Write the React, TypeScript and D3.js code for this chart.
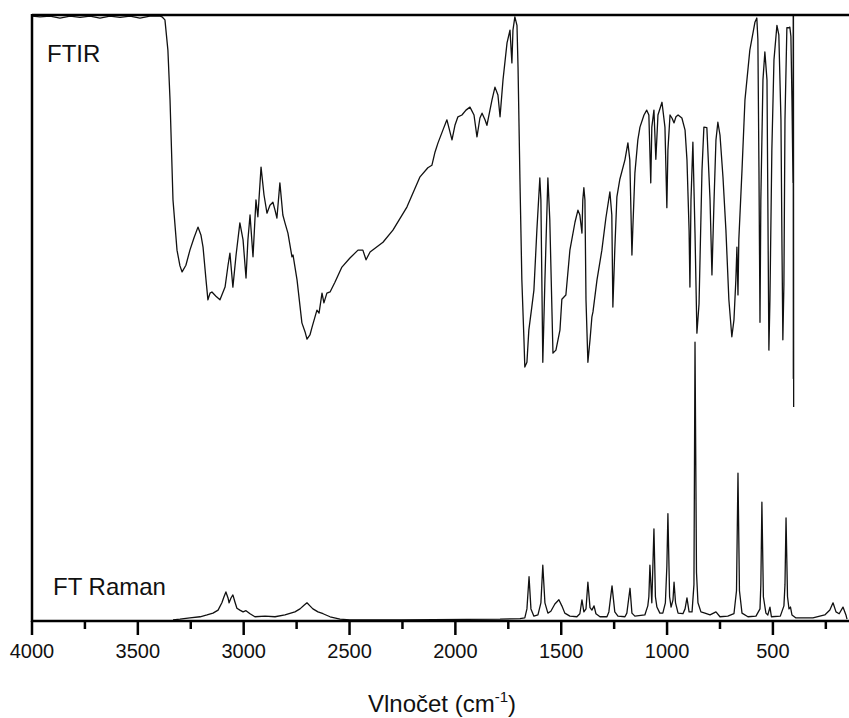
import React from "react";
import * as d3 from "d3";

// wavenumber (cm-1), transmittance-like value (0-100)
const ftirWavenumbers = [
  4000, 3962, 3915, 3868, 3820, 3773, 3726, 3679, 3632, 3584, 3537, 3490, 3443, 3395,
  3386, 3372, 3358, 3348, 3334, 3315, 3301, 3291, 3273, 3254, 3235, 3216, 3202, 3192,
  3178, 3169, 3159, 3150, 3131, 3112, 3088, 3074, 3065, 3051, 3036, 3018, 3003, 2989,
  2980, 2970, 2956, 2942, 2933, 2918, 2904, 2890, 2876, 2862, 2852, 2843, 2829, 2815,
  2805, 2791, 2772, 2767, 2748, 2725, 2710, 2701, 2687, 2677, 2654, 2644, 2630, 2621,
  2607, 2592, 2569, 2536, 2498, 2460, 2437, 2422, 2403, 2342, 2295, 2229, 2167, 2130,
  2111, 2096, 2082, 2059, 2040, 2016, 2002, 1988, 1969, 1950, 1931, 1912, 1898, 1884,
  1874, 1860, 1851, 1827, 1813, 1799, 1789, 1775, 1756, 1742, 1733, 1728, 1719, 1709,
  1704, 1695, 1686, 1676, 1672, 1662, 1653, 1639, 1629, 1615, 1601, 1596, 1587, 1577,
  1563, 1554, 1539, 1525, 1506, 1497, 1478, 1459, 1435, 1421, 1412, 1402, 1398, 1393,
  1388, 1383, 1374, 1364, 1355, 1350, 1331, 1308, 1289, 1270, 1261, 1256, 1247, 1237,
  1223, 1199, 1185, 1176, 1166, 1162, 1152, 1138, 1128, 1109, 1096, 1086, 1077, 1072,
  1062, 1053, 1043, 1024, 1010, 1001, 996, 986, 977, 967, 958, 948, 930, 915, 906, 896,
  892, 887, 878, 868, 859, 849, 835, 826, 812, 797, 788, 778, 769, 760, 750, 736, 722,
  708, 694, 684, 675, 670, 665, 661, 646, 632, 609, 585, 576, 571, 566, 561, 557, 547,
  538, 528, 524, 519, 514, 505, 495, 481, 472, 462, 457, 453, 448, 443, 434, 424, 420,
  415, 410, 405, 404, 403.5, 403, 402,
];
const ftirValues = [
  99.8, 99.7, 99.8, 99.5, 99.8, 99.6, 99.8, 99.5, 99.8, 99.6, 99.8, 99.5, 99.8, 99.8,
  99.7, 99.2, 94.2, 86.0, 69.5, 61.2, 58.6, 57.6, 58.7, 61.2, 63.2, 65.0, 63.7, 61.7,
  56.3, 53.0, 54.1, 54.3, 53.6, 53.0, 55.1, 58.7, 60.7, 55.1, 60.4, 65.7, 62.9, 56.6,
  62.9, 67.0, 60.1, 69.5, 66.7, 74.9, 70.3, 67.3, 68.6, 69.1, 67.8, 66.5, 72.3, 67.0,
  65.7, 64.0, 60.1, 60.4, 56.3, 49.2, 47.7, 46.5, 47.2, 48.5, 51.3, 50.8, 54.1, 52.5,
  54.1, 54.3, 55.9, 58.4, 59.9, 61.2, 61.2, 59.6, 60.9, 62.5, 64.5, 68.3, 73.3, 74.8,
  75.2, 77.4, 78.9, 81.0, 82.7, 79.4, 81.8, 83.2, 83.5, 84.3, 84.8, 83.5, 79.9, 83.0,
  83.8, 82.7, 81.8, 86.0, 88.1, 86.8, 83.2, 89.3, 95.4, 97.5, 92.1, 97.5, 99.7, 98.3,
  91.4, 72.8, 56.3, 46.4, 41.9, 42.7, 48.0, 51.8, 54.6, 64.5, 73.1, 69.5, 42.7, 56.3,
  73.1, 66.2, 44.2, 44.7, 48.0, 53.1, 53.8, 61.2, 65.8, 67.8, 67.0, 64.0, 69.5, 71.5,
  69.5, 53.0, 42.7, 46.4, 50.2, 51.0, 56.3, 61.2, 66.5, 70.8, 67.0, 51.8, 61.2, 70.0,
  72.9, 76.1, 78.9, 76.1, 60.4, 64.5, 73.9, 79.4, 81.5, 83.5, 84.3, 83.5, 72.3, 81.5,
  84.3, 76.2, 83.5, 85.6, 81.5, 68.2, 77.7, 83.5, 83.0, 82.2, 83.2, 83.5, 83.0, 81.0, 76.1, 64.5,
  55.1, 69.5, 79.0, 64.0, 47.5, 52.3, 74.4, 81.5, 81.4, 69.5, 57.1, 69.5, 79.4, 82.3, 80.2, 73.3, 64.5,
  53.0, 46.9, 49.7, 56.3, 61.7, 53.8, 62.9, 74.4, 86.0, 94.2, 98.8, 99.5, 96.0, 74.9, 49.3, 69.5, 89.3,
  93.9, 89.3, 69.5, 44.7, 53.0, 77.7, 92.6, 98.3, 96.7, 82.7, 61.2, 46.4, 55.6, 82.7, 97.9, 97.9, 98.0,
  96.5, 86.0, 72.3, 100, 40, 100, 35.3,
];

// Raman intensity (same 0-100 scale)
const ramanWavenumbers = [
  3334, 3301, 3254, 3206, 3173, 3145, 3121, 3103, 3093, 3084, 3074, 3069, 3060, 3051,
  3041, 3032, 3018, 3003, 2989, 2970, 2947, 2899, 2852, 2805, 2758, 2734, 2715, 2701,
  2687, 2673, 2649, 2625, 2592, 2545, 2498, 2262, 1789, 1695,
  1672, 1662, 1652, 1643, 1629,
  1610, 1596, 1587, 1577, 1563,
  1549, 1530, 1511, 1497, 1483, 1459, 1426,
  1412, 1402, 1393, 1383, 1374, 1364, 1355, 1345, 1336, 1317, 1284,
  1275, 1260, 1247, 1232, 1199,
  1190, 1175, 1166, 1152, 1105,
  1091, 1086, 1081, 1072, 1062, 1055, 1048, 1034, 1020,
  1008, 1001, 996, 988, 981,
  972, 967, 960, 948, 925,
  915, 906, 896, 882, 873, 868, 861, 854, 840, 821, 797, 769, 750, 713, 684,
  672, 665, 658, 646, 618, 580, 561,
  557, 552, 545, 533, 524,
  514, 507, 465, 448,
  443, 438, 431, 424, 417, 410, 391, 311, 255, 231, 216, 202, 187, 169, 155, 150,
];
const ramanValues = [
  0.2, 0.3, 0.5, 0.7, 1.0, 1.3, 1.8, 3.0, 4.0, 4.8, 3.8, 3.0, 3.8, 4.3,
  3.1, 2.1, 1.8, 1.5, 1.7, 1.2, 0.7, 0.8, 0.7, 1.0, 1.5, 2.0, 2.6, 3.0,
  2.5, 2.0, 1.5, 1.2, 0.7, 0.3, 0.2, 0.2, 0.3, 0.4,
  0.5, 2.0, 7.3, 2.0, 0.8,
  1.0, 3.0, 9.2, 3.0, 1.3,
  1.6, 2.8, 3.5, 2.5, 1.3, 0.8, 0.7,
  1.2, 3.5, 1.5, 2.0, 6.4, 2.2, 1.8, 2.5, 1.2, 0.7, 0.7,
  1.5, 5.8, 1.5, 0.8, 0.7,
  1.3, 5.4, 1.3, 0.8, 1.0,
  2.5, 4.0, 9.2, 3.0, 15.2, 4.0, 2.3, 1.3, 1.3,
  3.0, 9.0, 17.7, 4.0, 2.3,
  3.5, 6.4, 3.0, 1.3, 1.2,
  2.0, 3.8, 1.5, 1.5, 6.0, 46.0, 8.0, 3.0, 1.5, 1.3, 1.0, 1.5, 0.7, 0.8, 1.2,
  5.0, 24.4, 5.0, 1.3, 0.7, 0.8, 2.0,
  6.0, 19.6, 4.0, 1.3, 1.0,
  2.3, 0.7, 0.8, 2.5,
  6.0, 17.0, 4.0, 2.0, 2.3, 1.0, 0.5, 0.5, 1.0, 1.8, 3.0, 1.5, 1.2, 2.3, 1.0, 0.3,
];

const majorTicks = [4000, 3500, 3000, 2500, 2000, 1500, 1000, 500];
const minorTicks = [3750, 3250, 2750, 2250, 1750, 1250, 750, 250];

const W = 849;
const H = 718;
const left = 32;
const right = 847;
const top = 15;
const bottom = 621;

export default function App() {
  const x = d3.scaleLinear().domain([4000, 150]).range([left, right]);
  const y = d3.scaleLinear().domain([0, 100]).range([bottom, top]);
  const line = d3
    .line<[number, number]>()
    .x((d) => x(d[0]))
    .y((d) => y(d[1]));
  const ftir = ftirWavenumbers.map((w, i) => [w, ftirValues[i]] as [number, number]);
  const raman = ramanWavenumbers.map((w, i) => [w, ramanValues[i]] as [number, number]);
  const font = "'Liberation Sans', Arial, sans-serif";

  return (
    <svg
      width={W}
      height={H}
      style={{ position: "fixed", left: 0, top: 0, background: "#fff" }}
    >
      <rect x={0} y={0} width={W} height={H} fill="#fff" />
      <path d={line(ftir) || ""} fill="none" stroke="#111" strokeWidth={1.3} strokeLinejoin="round" />
      <path d={line(raman) || ""} fill="none" stroke="#111" strokeWidth={1.3} strokeLinejoin="round" />
      {/* axes */}
      <line x1={left} x2={W} y1={top} y2={top} stroke="#000" strokeWidth={2.5} />
      <line x1={left} x2={W} y1={bottom} y2={bottom} stroke="#000" strokeWidth={2.5} />
      <line x1={left} x2={left} y1={top - 1} y2={bottom + 1} stroke="#000" strokeWidth={2.5} />
      {majorTicks.map((t) => (
        <g key={t}>
          <line x1={x(t)} x2={x(t)} y1={bottom} y2={bottom + 14} stroke="#000" strokeWidth={2.5} />
          <text
            x={x(t)}
            y={658}
            textAnchor="middle"
            fontFamily={font}
            fontSize={20}
            fill="#111"
          >
            {t}
          </text>
        </g>
      ))}
      {minorTicks.map((t) => (
        <line key={t} x1={x(t)} x2={x(t)} y1={bottom} y2={bottom + 8} stroke="#000" strokeWidth={2.5} />
      ))}
      <text x={47} y={62} fontFamily={font} fontSize={24} fill="#111">
        FTIR
      </text>
      <text x={53} y={595} fontFamily={font} fontSize={24} fill="#111">
        FT Raman
      </text>
      <text x={442} y={712} textAnchor="middle" fontFamily={font} fontSize={24} fill="#111">
        Vlnočet (cm
        <tspan fontSize={15} dy={-10}>-1</tspan>
        <tspan dy={10}>)</tspan>
      </text>
    </svg>
  );
}
